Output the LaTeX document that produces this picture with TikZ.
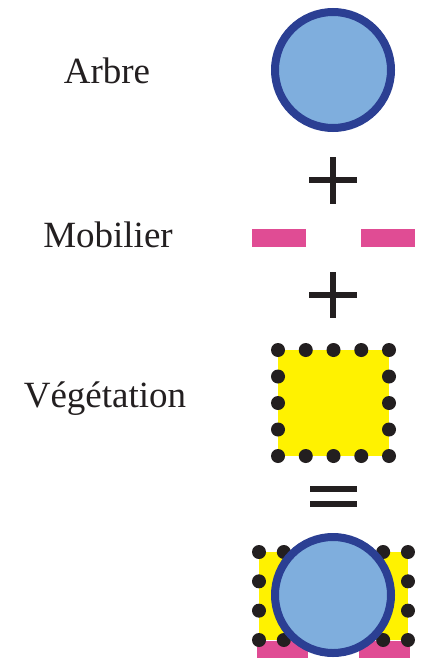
\documentclass[tikz,border=0pt]{standalone}
\usepackage{fontspec}
\setmainfont{Liberation Serif}
\definecolor{arbrefond}{HTML}{7FAEDD}
\definecolor{arbretrait}{HTML}{2B3F93}
\definecolor{mobrose}{HTML}{E04C94}
\definecolor{vegjaune}{HTML}{FFF200}
\definecolor{noir}{HTML}{231F20}
\tikzset{
  arbre/.style={circle, draw=arbretrait, fill=arbrefond, line width=8pt, minimum size=116pt, inner sep=0pt},
  etiquette/.style={anchor=base, font=\fontsize{37}{44}\selectfont, text=noir},
  signe/.style={draw=noir, line width=6pt},
  point/.style={fill=noir},
}
\begin{document}
\begin{tikzpicture}[x=1pt,y=-1pt]
\useasboundingbox (0,0) rectangle (435,661);
% libelles
\node[etiquette] (arbre-txt) at (107,83) {Arbre};
\node[etiquette] (mobilier-txt) at (108,247) {Mobilier};
\node[etiquette] (veg-txt) at (105,407) {Végétation};
% arbre
\node[arbre] (arbre-haut) at (333,70) {};
% plus
\path[signe] (309,180) -- (357,180) (333,157) -- (333,204);
% mobilier
\fill[mobrose] (252,229) rectangle (306,247);
\fill[mobrose] (361,229) rectangle (415,247);
% plus
\path[signe] (309,295) -- (357,295) (333,272) -- (333,318);
% vegetation
\fill[vegjaune] (278,350) rectangle (389,456);
\foreach \i in {0,...,4} {
  \fill[point] (278+27.75*\i,350) circle (7pt);
  \fill[point] (278+27.75*\i,456) circle (7pt);
}
\foreach \j in {1,2,3} {
  \fill[point] (278,350+26.5*\j) circle (7pt);
  \fill[point] (389,350+26.5*\j) circle (7pt);
}
% egal
\path[signe] (310,489) -- (357,489) (310,504) -- (357,504);
% resultat
\fill[vegjaune] (259,552) rectangle (408,640);
\fill[mobrose] (257,641) rectangle (308,658);
\fill[mobrose] (359,641) rectangle (410,658);
\foreach \i in {0,...,6} {
  \fill[point] (259+24.83*\i,552) circle (7pt);
  \fill[point] (259+24.83*\i,640) circle (7pt);
}
\foreach \j in {1,2} {
  \fill[point] (259,552+29.33*\j) circle (7pt);
  \fill[point] (408,552+29.33*\j) circle (7pt);
}
\node[arbre] (arbre-bas) at (333,595) {};
\end{tikzpicture}
\end{document}
